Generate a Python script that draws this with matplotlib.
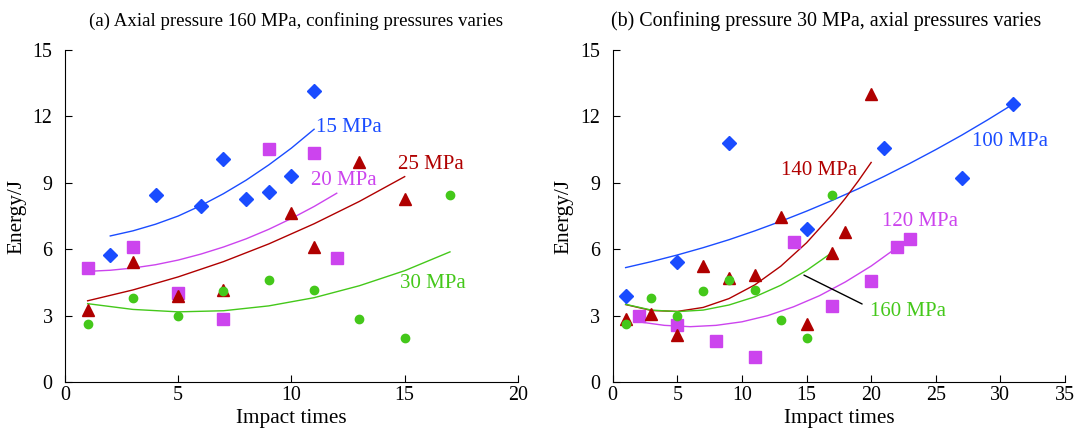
import numpy as np
import matplotlib
matplotlib.use("Agg")
import matplotlib.pyplot as plt

plt.rcParams['font.family'] = ['Liberation Serif', 'DejaVu Serif']

BLUE = '#1a4cff'
MAGENTA = '#cc44ee'
RED = '#b00000'
GREEN = '#44c81a'

# (a) axial 160 MPa, confining varies
a15_x = [2, 4, 6, 7, 8, 9, 10, 11]
a15_y = [5.73, 8.44, 7.96, 10.07, 8.29, 8.59, 9.30, 13.15]
a20_x = [1, 3, 5, 7, 9, 11, 12]
a20_y = [5.17, 6.11, 4.03, 2.85, 10.51, 10.37, 5.61]
a25_x = [1, 3, 5, 7, 10, 11, 13, 15]
a25_y = [3.27, 5.43, 3.89, 4.15, 7.64, 6.09, 9.92, 8.25]
a30_x = [1, 3, 5, 7, 9, 11, 13, 15, 17]
a30_y = [2.64, 3.81, 2.99, 4.12, 4.61, 4.16, 2.83, 2.00, 8.46]

# trend curves
a15_fx = [2, 3, 4, 5, 6, 7, 8, 9, 10, 11]
a15_fy = [6.60, 6.83, 7.13, 7.50, 7.97, 8.51, 9.12, 9.81, 10.57, 11.42]
a20_fx = [1, 2, 3, 4, 5, 6, 7, 8, 9, 10, 11, 12]
a20_fy = [5.00, 5.05, 5.15, 5.30, 5.51, 5.78, 6.10, 6.47, 6.90, 7.39, 7.93, 8.53]
a25_fx = [1, 3, 5, 7, 9, 11, 13, 15]
a25_fy = [3.67, 4.16, 4.75, 5.44, 6.24, 7.15, 8.16, 9.28]
a30_fx = [1, 3, 5, 7, 9, 11, 13, 15, 17]
a30_fy = [3.54, 3.28, 3.17, 3.22, 3.44, 3.81, 4.35, 5.03, 5.88]

# (b) confining 30 MPa, axial varies
b100_x = [1, 5, 9, 15, 21, 27, 31]
b100_y = [3.9, 5.44, 10.81, 6.9, 10.57, 9.23, 12.56]
b120_x = [2, 5, 8, 11, 14, 17, 20, 22, 23]
b120_y = [2.97, 2.59, 1.84, 1.13, 6.33, 3.45, 4.58, 6.09, 6.48]
b140_x = [1, 3, 5, 7, 9, 11, 13, 15, 17, 18, 20]
b140_y = [2.86, 3.06, 2.11, 5.23, 4.70, 4.85, 7.46, 2.61, 5.85, 6.8, 13.01]
b160_x = [1, 3, 5, 7, 9, 11, 13, 15, 17]
b160_y = [2.61, 3.80, 2.97, 4.10, 4.60, 4.15, 2.80, 1.97, 8.46]

b100_fx = [1, 3, 5, 7, 9, 11, 13, 15, 17, 19, 21, 23, 25, 27, 29, 31]
b100_fy = [5.17, 5.44, 5.74, 6.07, 6.43, 6.83, 7.26, 7.72, 8.21, 8.73, 9.29,
           9.88, 10.5, 11.15, 11.84, 12.56]
b120_fx = [2, 4, 6, 8, 10, 12, 14, 16, 18, 20, 22, 23]
b120_fy = [2.72, 2.56, 2.50, 2.56, 2.72, 3.00, 3.40, 3.90, 4.52, 5.24, 6.08, 6.55]
b140_fx = [1, 3, 5, 7, 9, 11, 13, 15, 17, 18, 19, 20]
b140_fy = [3.50, 3.23, 3.19, 3.37, 3.77, 4.39, 5.23, 6.29, 7.58, 8.30, 9.08, 9.92]
b160_fx = [1, 3, 5, 7, 9, 11, 13, 15, 17]
b160_fy = [3.51, 3.25, 3.18, 3.25, 3.48, 3.85, 4.37, 5.04, 5.86]

fig = plt.figure(figsize=(10.81, 4.32), dpi=100)
ax1 = fig.add_axes([0.0601, 0.1157, 0.419, 0.7685])
ax2 = fig.add_axes([0.5668, 0.1157, 0.4184, 0.7685])

def style(ax, xmax, xstep, title, tx, tsize):
    for s in ['top', 'right']:
        ax.spines[s].set_visible(False)
    ax.set_xlim(0, xmax)
    ax.set_ylim(0, 15)
    ax.set_xticks(np.arange(0, xmax + 1, xstep))
    ax.set_yticks([0, 3, 6, 9, 12, 15])
    ax.tick_params(direction='in', labelsize=14.4, length=5)
    ax.tick_params(axis='y', pad=9)
    ax.tick_params(axis='x', pad=3)
    ax.set_xlabel('Impact times', fontsize=15.3)
    ax.set_ylabel('Energy/J', fontsize=15.3)
    ax.xaxis.set_label_coords(0.5, -0.08)
    ax.yaxis.set_label_coords(-0.086, 0.5)
    ax.text(tx, 1.088, title, transform=ax.transAxes, fontsize=tsize,
            ha='center', va='center')

# panel a
ax1.plot(a15_fx, a15_fy, color=BLUE, lw=1)
ax1.plot(a20_fx, a20_fy, color=MAGENTA, lw=1)
ax1.plot(a25_fx, a25_fy, color=RED, lw=1)
ax1.plot(a30_fx, a30_fy, color=GREEN, lw=1)
ax1.plot(a15_x, a15_y, 'D', color=BLUE, ms=7, ls='none')
ax1.plot(a20_x, a20_y, 's', color=MAGENTA, ms=8, ls='none')
ax1.plot(a25_x, a25_y, '^', color=RED, ms=8, ls='none')
ax1.plot(a30_x, a30_y, 'o', color=GREEN, ms=6, ls='none')
ax1.text(11.1, 11.5, '15 MPa', color=BLUE, fontsize=15, va='center')
ax1.text(10.85, 9.1, '20 MPa', color=MAGENTA, fontsize=15, va='center')
ax1.text(14.7, 9.85, '25 MPa', color=RED, fontsize=15, va='center')
ax1.text(14.8, 4.45, '30 MPa', color=GREEN, fontsize=15, va='center')
style(ax1, 20, 5, '(a) Axial pressure 160 MPa, confining pressures varies', 0.51, 13.6)

# panel b
ax2.plot(b100_fx, b100_fy, color=BLUE, lw=1)
ax2.plot(b120_fx, b120_fy, color=MAGENTA, lw=1)
ax2.plot(b140_fx, b140_fy, color=RED, lw=1)
ax2.plot(b160_fx, b160_fy, color=GREEN, lw=1)
ax2.plot(b100_x, b100_y, 'D', color=BLUE, ms=7, ls='none')
ax2.plot(b120_x, b120_y, 's', color=MAGENTA, ms=8, ls='none')
ax2.plot(b140_x, b140_y, '^', color=RED, ms=8, ls='none')
ax2.plot(b160_x, b160_y, 'o', color=GREEN, ms=6, ls='none')
ax2.annotate('160 MPa', xy=(14.8, 4.83), xytext=(19.9, 3.18), color=GREEN, fontsize=15,
             va='center', arrowprops=dict(arrowstyle='-', color='black', lw=1,
                                          shrinkA=4, shrinkB=0, relpos=(0, 0.7)))
ax2.text(27.8, 10.86, '100 MPa', color=BLUE, fontsize=15, va='center')
ax2.text(13.0, 9.57, '140 MPa', color=RED, fontsize=15, va='center')
ax2.text(20.84, 7.24, '120 MPa', color=MAGENTA, fontsize=15, va='center')
style(ax2, 35, 5, '(b) Confining pressure 30 MPa, axial pressures varies', 0.472, 14.4)

fig.savefig('out.png', dpi=100)
